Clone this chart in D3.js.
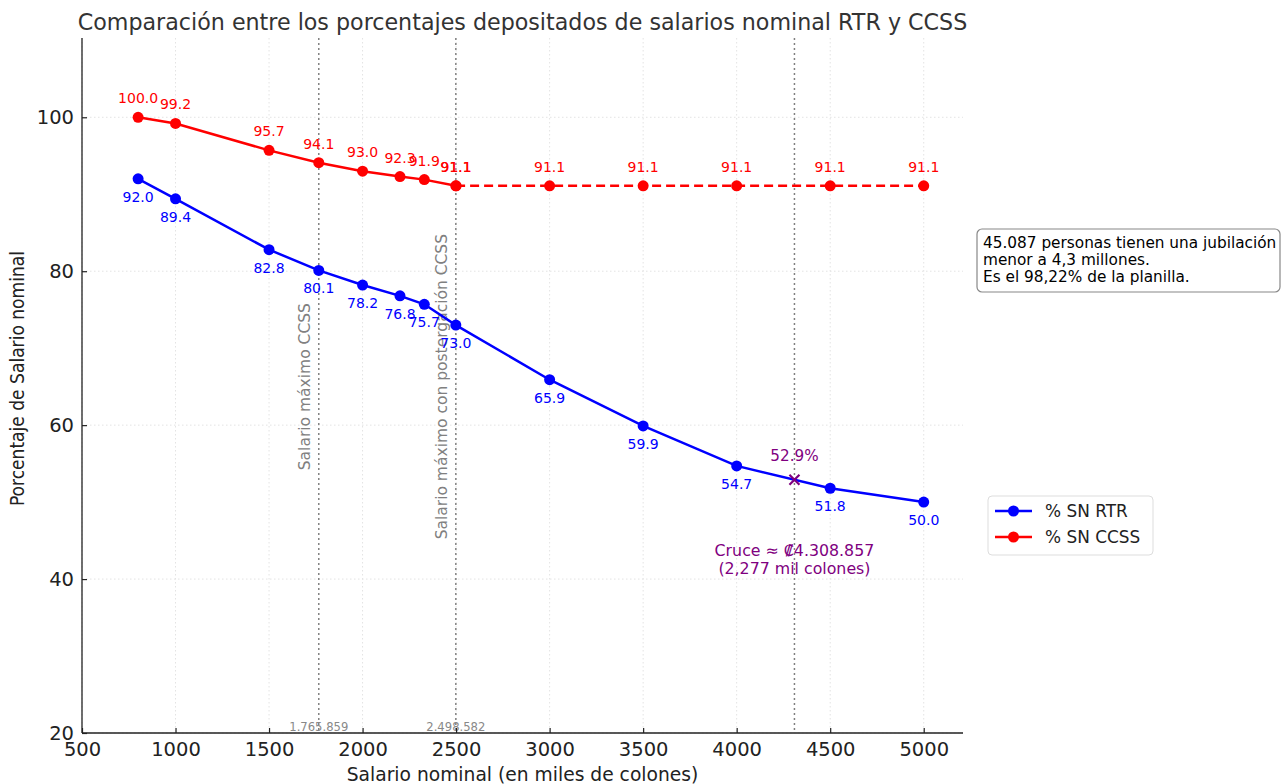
<!DOCTYPE html>
<html><head><meta charset="utf-8">
<script src="https://cdn.jsdelivr.net/npm/d3@7"></script>
<style>body{margin:0;background:#fff;} svg{font-family:"DejaVu Sans",sans-serif;}</style>
</head><body>
<svg id="c" width="1282" height="784"></svg>
<script>
const salariosRTR = [800, 1000, 1500, 1765.859, 2000, 2200, 2330, 2498.582, 3000, 3500, 4000, 4500, 5000];
const pctRTR = [92.0, 89.4, 82.8, 80.1, 78.2, 76.8, 75.7, 73.0, 65.9, 59.9, 54.7, 51.8, 50.0];
const salariosCCSS = [800, 1000, 1500, 1765.859, 2000, 2200, 2330, 2498.582];
const pctCCSS = [100.0, 99.2, 95.7, 94.1, 93.0, 92.3, 91.9, 91.1];
const salariosCCSSTope = [2500, 3000, 3500, 4000, 4500, 5000];
const pctCCSSTope = [91.1, 91.1, 91.1, 91.1, 91.1, 91.1];
const xTicks = [500, 1000, 1500, 2000, 2500, 3000, 3500, 4000, 4500, 5000];
const yTicks = [20, 40, 60, 80, 100];
const refLines = [1765.859, 2498.582, 4308.857];
const refTickLabels = ["1.765.859", "2.498.582"];
const cruce = {x: 4308.857, y: 52.9};

const svg = d3.select("#c");
const m = {l: 82, t: 38, r: 963, b: 733};
const x = d3.scaleLinear().domain([500, 5210]).range([m.l, m.r]);
const y = d3.scaleLinear().domain([20, 110.3]).range([m.b, m.t]);

// grid
const g = svg.append("g");
g.selectAll(".gx").data(xTicks).join("line")
  .attr("x1", d => x(d)).attr("x2", d => x(d)).attr("y1", m.t).attr("y2", m.b)
  .attr("stroke", "#e3e3e3").attr("stroke-dasharray", "1.5,2.5").attr("stroke-width", 1);
g.selectAll(".gy").data(yTicks).join("line")
  .attr("x1", m.l).attr("x2", m.r).attr("y1", d => y(d)).attr("y2", d => y(d))
  .attr("stroke", "#e3e3e3").attr("stroke-dasharray", "1.5,2.5").attr("stroke-width", 1);

// reference lines
svg.selectAll(".ref").data(refLines).join("line")
  .attr("x1", d => x(d)).attr("x2", d => x(d)).attr("y1", m.t).attr("y2", m.b)
  .attr("stroke", "#808080").attr("stroke-dasharray", "2,3").attr("stroke-width", 1.5);

// rotated labels
[[refLines[0], "Salario máximo CCSS"], [refLines[1], "Salario máximo con postergación CCSS"]].forEach(([v, t]) => {
  const px = x(v) - 9, py = y(65);
  svg.append("text").attr("transform", `translate(${px},${py}) rotate(-90)`)
    .attr("text-anchor", "middle").attr("font-size", 15.5).attr("fill", "#808080").text(t);
});
refTickLabels.forEach((t, i) => {
  svg.append("text").attr("x", x(refLines[i])).attr("y", m.b - 2)
    .attr("text-anchor", "middle").attr("font-size", 11.6).attr("fill", "#888").text(t);
});

// axes (ticks point inward)
const xa = svg.append("g").attr("transform", `translate(0,${m.b})`)
  .call(d3.axisBottom(x).tickValues(xTicks).tickSize(-5).tickPadding(9).tickFormat(d3.format("d")));
const ya = svg.append("g").attr("transform", `translate(${m.l},0)`)
  .call(d3.axisLeft(y).tickValues(yTicks).tickSize(-5).tickPadding(8).tickFormat(d3.format("d")));
[xa, ya].forEach(a => {
  a.selectAll("text").attr("font-size", 19.5).attr("font-family", "DejaVu Sans").attr("fill", "#222");
  a.select(".domain").attr("stroke", "#222").attr("stroke-width", 1.3);
  a.selectAll(".tick line").attr("stroke", "#222").attr("stroke-width", 1.2);
});
xa.select(".domain").attr("d", `M${m.l},0H${m.r}`);
ya.select(".domain").attr("d", `M0,${m.t}V${m.b}`);

const line = d3.line().x(d => x(d[0])).y(d => y(d[1]));
const rtr = salariosRTR.map((s, i) => [s, pctRTR[i]]);
const ccss = salariosCCSS.map((s, i) => [s, pctCCSS[i]]);
const tope = salariosCCSSTope.map((s, i) => [s, pctCCSSTope[i]]);

svg.append("path").datum(tope).attr("d", line).attr("fill", "none")
  .attr("stroke", "#ff0000").attr("stroke-width", 2.5).attr("stroke-dasharray", "9,5");
svg.append("path").datum(ccss).attr("d", line).attr("fill", "none")
  .attr("stroke", "#ff0000").attr("stroke-width", 2.5);
svg.append("path").datum(rtr).attr("d", line).attr("fill", "none")
  .attr("stroke", "#0000ff").attr("stroke-width", 2.5);

function pts(data, color, dy) {
  svg.append("g").selectAll("circle").data(data).join("circle")
    .attr("cx", d => x(d[0])).attr("cy", d => y(d[1])).attr("r", 5.5).attr("fill", color);
  svg.append("g").selectAll("text").data(data).join("text")
    .attr("x", d => x(d[0])).attr("y", d => y(d[1]) + dy)
    .attr("text-anchor", "middle").attr("font-size", 14).attr("fill", color)
    .text(d => d[1].toFixed(1));
}
pts(ccss, "#ff0000", -14);
pts(tope, "#ff0000", -14);
pts(rtr, "#0000ff", 23);

// cruce
const cx = x(cruce.x), cy = y(cruce.y);
svg.append("path").attr("d", `M${cx-5},${cy-5}L${cx+5},${cy+5}M${cx-5},${cy+5}L${cx+5},${cy-5}`)
  .attr("stroke", "#800080").attr("stroke-width", 2.2);
svg.append("text").attr("x", cx).attr("y", cy - 19).attr("text-anchor", "middle")
  .attr("font-size", 15.2).attr("fill", "#800080").text(cruce.y.toFixed(1) + "%");
svg.append("text").attr("x", cx).attr("y", 556).attr("text-anchor", "middle")
  .attr("font-size", 15.8).attr("fill", "#800080").text("Cruce ≈ ₡4.308.857");
svg.append("text").attr("x", cx).attr("y", 574).attr("text-anchor", "middle")
  .attr("font-size", 15.8).attr("fill", "#800080").text("(2,277 mil colones)");

// title and axis labels
svg.append("text").attr("x", (m.l + m.r) / 2).attr("y", 30).attr("text-anchor", "middle")
  .attr("font-size", 22.2).attr("fill", "#333").text("Comparación entre los porcentajes depositados de salarios nominal RTR y CCSS");
svg.append("text").attr("x", (m.l + m.r) / 2).attr("y", 781).attr("text-anchor", "middle")
  .attr("font-size", 18.7).attr("fill", "#222").text("Salario nominal (en miles de colones)");
svg.append("text").attr("transform", `translate(24,${(m.t + m.b) / 2 - 7}) rotate(-90)`)
  .attr("text-anchor", "middle").attr("font-size", 19).attr("font-family", "DejaVu Sans Condensed, DejaVu Sans")
  .attr("fill", "#222").text("Porcentaje de Salario nominal");

// text box
svg.append("rect").attr("x", 977).attr("y", 229).attr("width", 303).attr("height", 63).attr("rx", 5)
  .attr("fill", "#fff").attr("stroke", "#888").attr("stroke-width", 1.2);
["45.087 personas tienen una jubilación", "menor a 4,3 millones.", "Es el 98,22% de la planilla."].forEach((t, i) => {
  svg.append("text").attr("x", 983).attr("y", 248 + i * 17).attr("font-size", 15.3).attr("fill", "#000").text(t);
});

// legend
svg.append("rect").attr("x", 988).attr("y", 496).attr("width", 165).attr("height", 59).attr("rx", 4)
  .attr("fill", "#fff").attr("stroke", "#ddd").attr("stroke-width", 1);
[["% SN RTR", "#0000ff"], ["% SN CCSS", "#ff0000"]].forEach(([t, c], i) => {
  const ly = 511 + i * 26;
  svg.append("line").attr("x1", 995).attr("x2", 1032).attr("y1", ly).attr("y2", ly).attr("stroke", c).attr("stroke-width", 2.5);
  svg.append("circle").attr("cx", 1013.5).attr("cy", ly).attr("r", 5.5).attr("fill", c);
  svg.append("text").attr("x", 1045).attr("y", ly + 6).attr("font-size", 16.9).attr("fill", "#222").text(t);
});
</script>
</body></html>
